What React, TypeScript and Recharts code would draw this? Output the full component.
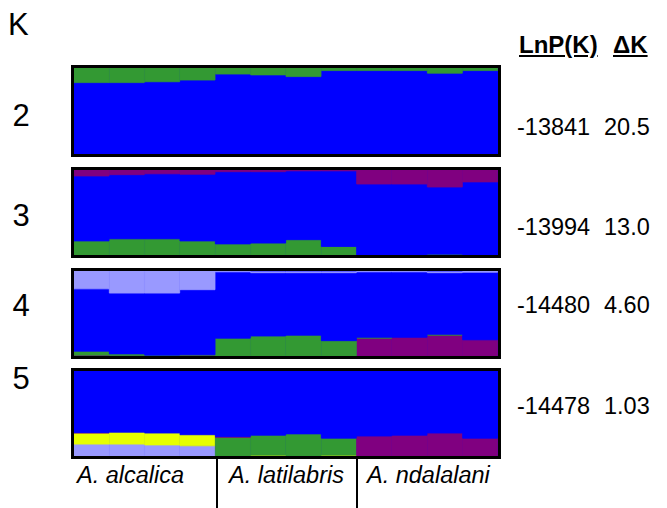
import React from "react"
import { Bar, BarChart, XAxis, YAxis } from "recharts"

// individuals (columns) in sample order
const samples = ["a1", "a2", "a3", "a4", "l1", "l2", "l3", "l4", "n1", "n2", "n3", "n4"]
const populations = ["A. alcalica", "A. latilabris", "A. ndalalani"]

const kValues = ["2", "3", "4", "5"]
const lnP = ["-13841", "-13994", "-14480", "-14478"]
const deltaK = ["20.5", "13.0", "4.60", "1.03"]

// K = 2 (bottom -> top: blue, green)
const k2Blue = [0.83, 0.83, 0.84, 0.86, 0.93, 0.92, 0.9, 0.97, 0.97, 0.97, 0.94, 0.97]
const k2Green = [0.17, 0.17, 0.16, 0.14, 0.07, 0.08, 0.1, 0.03, 0.03, 0.03, 0.06, 0.03]

// K = 3 (bottom -> top: green, blue, purple)
const k3Green = [0.165, 0.19, 0.19, 0.165, 0.13, 0.14, 0.18, 0.1, 0, 0, 0.01, 0]
const k3Blue = [0.765, 0.755, 0.765, 0.785, 0.85, 0.84, 0.81, 0.89, 0.835, 0.835, 0.79, 0.86]
const k3Purple = [0.07, 0.055, 0.045, 0.05, 0.02, 0.02, 0.01, 0.01, 0.165, 0.165, 0.2, 0.14]

// K = 4 (bottom -> top: purple, green, blue, lavender)
const k4Purple = [0.01, 0.005, 0, 0.01, 0, 0, 0, 0, 0.21, 0.22, 0.245, 0.19]
const k4Green = [0.047, 0.02, 0.01, 0.005, 0.21, 0.235, 0.245, 0.18, 0.01, 0, 0.01, 0]
const k4Blue = [0.733, 0.715, 0.73, 0.765, 0.78, 0.745, 0.735, 0.8, 0.77, 0.77, 0.725, 0.795]
const k4Lavender = [0.21, 0.26, 0.26, 0.22, 0.01, 0.01, 0.01, 0.01, 0.01, 0.01, 0.01, 0.015]

// K = 5 (bottom -> top: lavender, yellow, green, purple, blue)
const k5Lavender = [0.14, 0.14, 0.13, 0.12, 0, 0, 0, 0, 0, 0, 0, 0]
const k5Yellow = [0.13, 0.14, 0.14, 0.13, 0, 0.01, 0, 0.01, 0, 0, 0, 0]
const k5Green = [0, 0, 0, 0, 0.22, 0.235, 0.26, 0.2, 0, 0, 0, 0]
const k5Purple = [0.005, 0, 0, 0, 0.01, 0, 0, 0, 0.235, 0.245, 0.27, 0.21]
const k5Blue = [0.725, 0.72, 0.73, 0.75, 0.77, 0.755, 0.74, 0.79, 0.765, 0.755, 0.73, 0.79]

const colors: Record<string, string> = {
  blue: "#0000ff",
  green: "#339933",
  purple: "#800080",
  lavender: "#9999ff",
  yellow: "#e6ff00",
}

type Series = { key: string; values: number[] }

const panels: Series[][] = [
  [
    { key: "blue", values: k2Blue },
    { key: "green", values: k2Green },
  ],
  [
    { key: "green", values: k3Green },
    { key: "blue", values: k3Blue },
    { key: "purple", values: k3Purple },
  ],
  [
    { key: "purple", values: k4Purple },
    { key: "green", values: k4Green },
    { key: "blue", values: k4Blue },
    { key: "lavender", values: k4Lavender },
  ],
  [
    { key: "lavender", values: k5Lavender },
    { key: "yellow", values: k5Yellow },
    { key: "green", values: k5Green },
    { key: "purple", values: k5Purple },
    { key: "blue", values: k5Blue },
  ],
]

const FONT = '"Liberation Sans", Arial, Helvetica, sans-serif'
const PANEL_LEFT = 71
const PANEL_W = 424
const BORDER = 3
const panelTops = [68, 170, 271, 371] // inner top
const panelHeights = [86, 85, 85, 85]
const kCenters = [115, 215, 305, 378]
const valueCenters = [128, 228, 306, 407]

function Text({ x, cy, size, children, style }: any) {
  return (
    <div
      style={{
        position: "absolute",
        left: x,
        top: cy - 0.49 * size,
        fontSize: size,
        lineHeight: 1,
        fontFamily: FONT,
        whiteSpace: "nowrap",
        color: "#000",
        ...style,
      }}
    >
      {children}
    </div>
  )
}

function Panel({ series, top, height }: { series: Series[]; top: number; height: number }) {
  const rows = samples.map((s, i) => {
    const row: Record<string, number | string> = { id: s }
    series.forEach((sr) => (row[sr.key] = sr.values[i]))
    return row
  })
  return (
    <div
      style={{
        position: "absolute",
        left: PANEL_LEFT,
        top: top - BORDER,
        width: PANEL_W,
        height,
        border: `${BORDER}px solid #000`,
        background: "#0000ff",
        overflow: "hidden",
      }}
    >
      <BarChart
        width={PANEL_W}
        height={height}
        data={rows}
        margin={{ top: 0, right: 0, bottom: 0, left: 0 }}
        barCategoryGap={0}
        barGap={0}
      >
        <XAxis dataKey="id" hide />
        <YAxis hide domain={[0, 1]} allowDataOverflow />
        {series.map((sr) => (
          <Bar
            key={sr.key}
            dataKey={sr.key}
            stackId="q"
            fill={colors[sr.key]}
            stroke={colors[sr.key]}
            strokeWidth={0.8}
            isAnimationActive={false}
          />
        ))}
      </BarChart>
    </div>
  )
}

export default function App() {
  return (
    <div style={{ position: "absolute", left: 0, top: 0, width: 667, height: 508, background: "#fff", overflow: "hidden" }}>
      <Text x={8} cy={24.5} size={31}>K</Text>
      {kValues.map((k, i) => (
        <Text key={k} x={1} cy={kCenters[i]} size={31} style={{ width: 40, textAlign: "center" }}>
          {k}
        </Text>
      ))}

      <Text x={519} cy={44.5} size={24} style={{ fontWeight: "bold", textDecoration: "underline" }}>LnP(K)</Text>
      <Text x={613} cy={44.5} size={24} style={{ fontWeight: "bold", textDecoration: "underline" }}>ΔK</Text>
      {lnP.map((v, i) => (
        <React.Fragment key={v}>
          <Text x={517} cy={valueCenters[i]} size={23.5}>{v}</Text>
          <Text x={604} cy={valueCenters[i]} size={23.5}>{deltaK[i]}</Text>
        </React.Fragment>
      ))}

      {panels.map((series, i) => (
        <Panel key={i} series={series} top={panelTops[i]} height={panelHeights[i]} />
      ))}

      {/* population separators */}
      <div style={{ position: "absolute", left: 216, top: 459, width: 2, height: 49, background: "#000" }} />
      <div style={{ position: "absolute", left: 356, top: 459, width: 2, height: 49, background: "#000" }} />

      <Text x={77} cy={476} size={23.5} style={{ fontStyle: "italic" }}>{populations[0]}</Text>
      <Text x={229} cy={476} size={23.5} style={{ fontStyle: "italic" }}>{populations[1]}</Text>
      <Text x={367} cy={476} size={23.5} style={{ fontStyle: "italic" }}>{populations[2]}</Text>
    </div>
  )
}
